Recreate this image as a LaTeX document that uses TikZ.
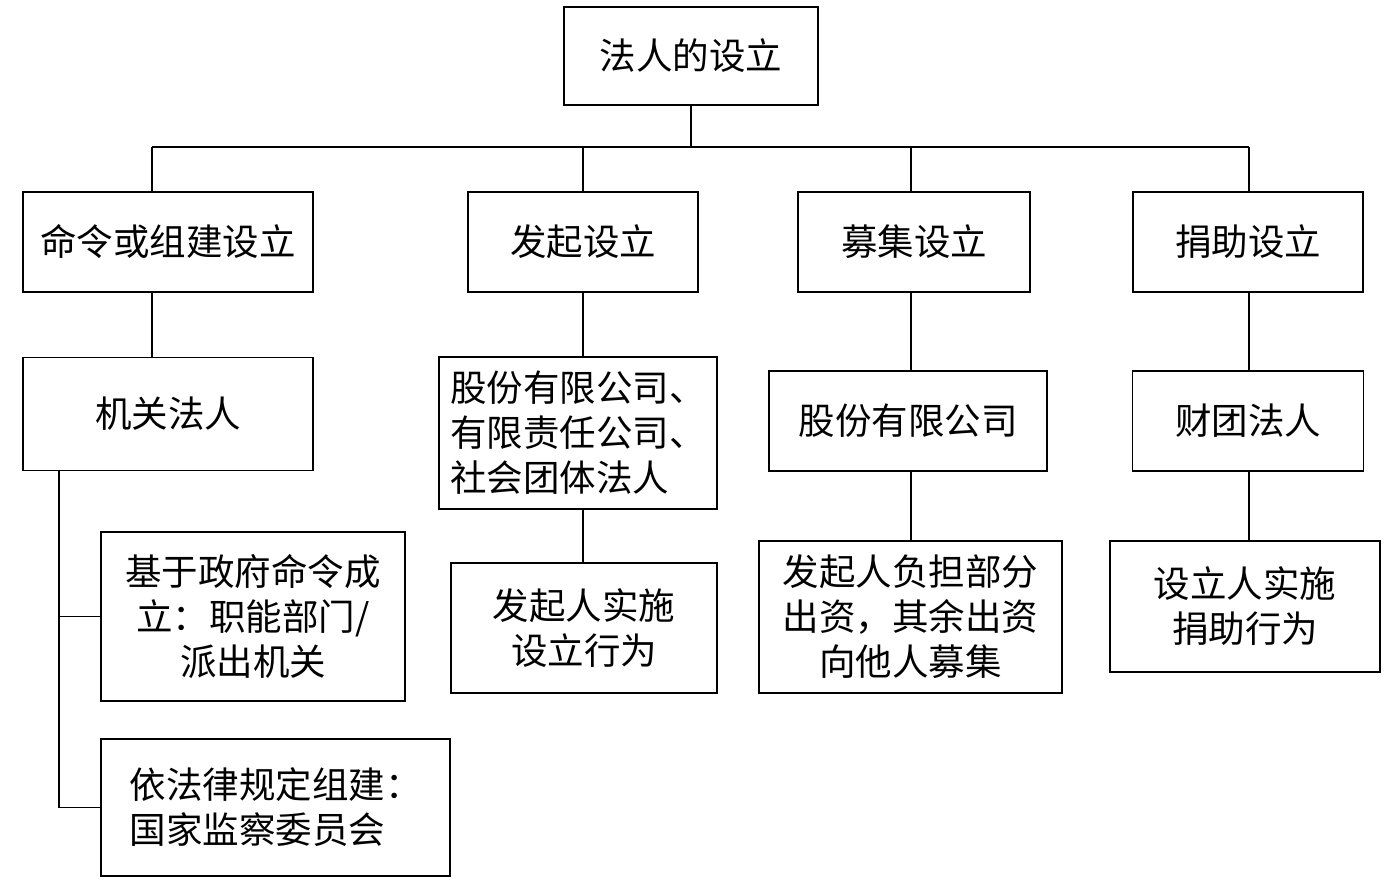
\documentclass[tikz,border=0pt]{standalone}
\usepackage{fontspec}
\setmainfont{Noto Sans CJK SC}
\begin{document}
\begin{tikzpicture}[x=1pt,y=-1pt,
  box/.style={draw=black, line width=1.6pt, inner sep=0pt, align=center,
    font=\fontsize{36.5}{45}\selectfont},
  conn/.style={draw=black, line width=1.6pt}]
\useasboundingbox (0,0) rectangle (1398,891);
% level 1
\node[box, minimum width=254, minimum height=98] (t) at (691,56) {法人的设立};
% level 2
\node[box, minimum width=290, minimum height=100] (b1) at (168,242) {命令或组建设立};
\node[box, minimum width=230, minimum height=100] (b2) at (583,242) {发起设立};
\node[box, minimum width=232, minimum height=100] (b3) at (914,242) {募集设立};
\node[box, minimum width=230, minimum height=100] (b4) at (1248,242) {捐助设立};
% level 3
\node[box, minimum width=290, minimum height=113] (k1) at (168,414) {机关法人};
\node[box, align=left, minimum width=278, minimum height=152] (k2) at (578,433) {股份有限公司、\\有限责任公司、\\社会团体法人};
\node[box, minimum width=278, minimum height=100] (k3) at (908,421) {股份有限公司};
\node[box, minimum width=231, minimum height=100] (k4) at (1248,421) {财团法人};
% level 4
\node[box, minimum width=304, minimum height=169] (l1) at (253,616.5) {基于政府命令成\\立：职能部门/\\派出机关};
\node[box, align=left, minimum width=349, minimum height=137] (l2) at (275.5,807.5) {依法律规定组建：\\国家监察委员会};
\node[box, minimum width=266, minimum height=130] (m2) at (584,628) {发起人实施\\设立行为};
\node[box, minimum width=303, minimum height=152] (m3) at (910.5,617) {发起人负担部分\\出资，其余出资\\向他人募集};
\node[box, minimum width=270, minimum height=131] (m4) at (1245,606.5) {设立人实施\\捐助行为};
% bus coordinates
\coordinate (j) at (691,147);
\coordinate (c1) at (152,147);
\coordinate (c2) at (583,147);
\coordinate (c3) at (911,147);
\coordinate (c4) at (1249,147);
\coordinate (s) at (59,0);
% connectors
\draw[conn] (t.south) -- (j);
\draw[conn] (c1) -- (c4);
\draw[conn] (c1) -- (b1.north -| c1);
\draw[conn] (c2) -- (b2.north -| c2);
\draw[conn] (c3) -- (b3.north -| c3);
\draw[conn] (c4) -- (b4.north -| c4);
\draw[conn] (b1.south -| c1) -- (k1.north -| c1);
\draw[conn] (b2.south -| c2) -- (k2.north -| c2);
\draw[conn] (b3.south -| c3) -- (k3.north -| c3);
\draw[conn] (b4.south -| c4) -- (k4.north -| c4);
\draw[conn] (k2.south -| c2) -- (m2.north -| c2);
\draw[conn] (k3.south -| c3) -- (m3.north -| c3);
\draw[conn] (k4.south -| c4) -- (m4.north -| c4);
\draw[conn] (k1.south -| s) -- (s |- l2.west) -- (l2.west);
\draw[conn] (s |- l1.west) -- (l1.west);
\end{tikzpicture}
\end{document}
